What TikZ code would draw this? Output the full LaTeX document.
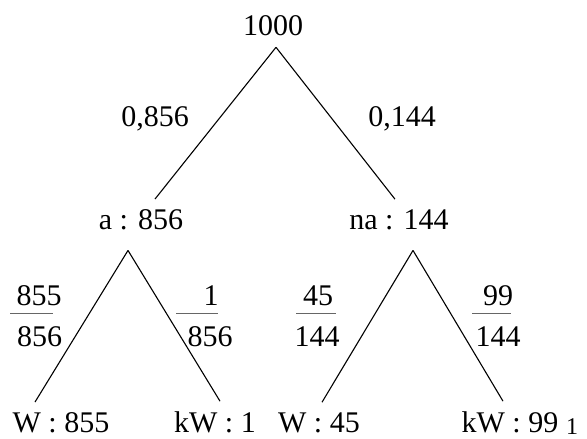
\documentclass[tikz,border=0pt]{standalone}
\usepackage{fontspec}
\setmainfont{Liberation Serif}
\usetikzlibrary{positioning,calc}
\tikzset{
	lbl/.style={inner sep=11pt, outer sep=0, anchor=base},
	prob/.style={inner sep=0, outer sep=0, anchor=base},
	fracbar/.style={draw=black!60, line width=0.9pt}
}

\begin{document}
\begin{tikzpicture}[x=1pt, y=1pt, line width=1.1pt,
					font=\fontsize{30}{36}\selectfont]
					\useasboundingbox (0,0) rectangle (587,439);
					% tree
					\node[lbl] (n0) at (273, 403) {1000};
					\node[lbl] (n1) at (141, 209) {a : 856};
					\node[lbl] (n2) at (399, 209) {na : 144};
					\node[lbl] (n1_1) at (61, 6) {W : 855};
					\node[lbl] (n1_2) at (215, 6) {kW : 1};
					\node[lbl] (n2_1) at (319, 6) {W : 45};
					\node[lbl] (n2_2) at (510, 6) {kW : 99};
					\node[prob, font=\fontsize{24}{28}\selectfont] (pg) at (572, 4) {1};
					% probabilities
					\node[prob] (p1) at (155, 312) {0,856};
					\node[prob] (p2) at (402, 312) {0,144};
					\node[prob] (p1_1n) at (39, 133) {855};
					\node[prob] (p1_1d) at (39.5, 92) {856};
					\node[prob] (p1_2n) at (211, 133) {1};
					\node[prob] (p1_2d) at (210, 92) {856};
					\node[prob] (p2_1n) at (318, 133) {45};
					\node[prob] (p2_1d) at (317, 92) {144};
					\node[prob] (p2_2n) at (498, 133) {99};
					\node[prob] (p2_2d) at (498, 92) {144};
					\draw[fracbar] (10,126) -- (53,126);
					\draw[fracbar] (176,126) -- (218,126);
					\draw[fracbar] (296,126) -- (336,126);
					\draw[fracbar] (472,126) -- (511,126);
					% branches
					\draw ([xshift=3pt]n0.south) -- ([xshift=14pt]n1.north);
					\draw ([xshift=3pt]n0.south) -- ([xshift=-4pt]n2.north);
					\draw ([xshift=-13pt,yshift=-9pt]n1.south) -- ([xshift=-26pt]n1_1.north);
					\draw ([xshift=-13pt,yshift=-9pt]n1.south) -- ([xshift=5pt]n1_2.north);
					\draw ([xshift=14pt,yshift=-9pt]n2.south) -- ([xshift=3pt]n2_1.north);
					\draw ([xshift=14pt,yshift=-9pt]n2.south) -- ([xshift=-7pt]n2_2.north);
				\end{tikzpicture}
\end{document}
